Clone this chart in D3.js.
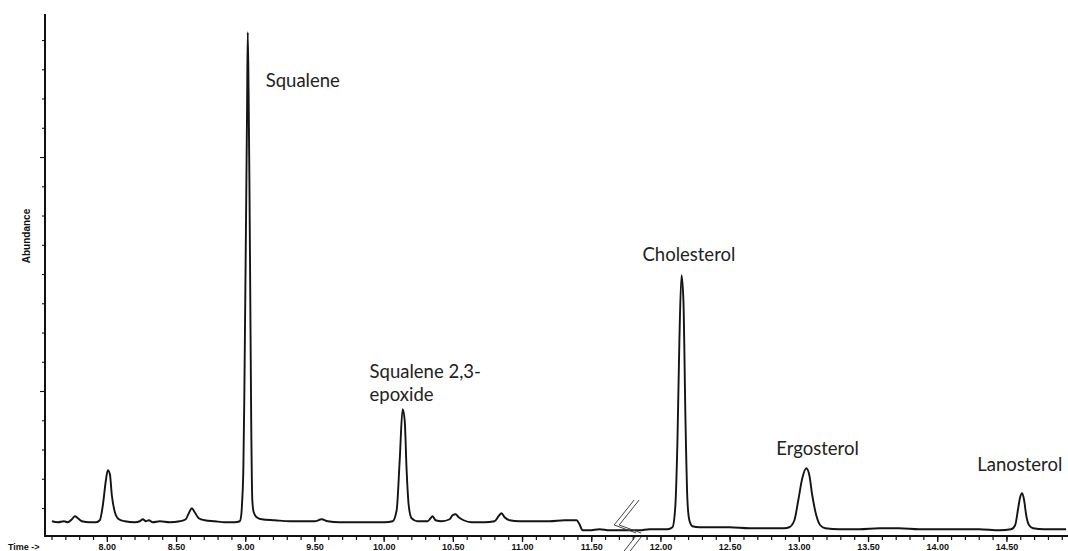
<!DOCTYPE html>
<html>
<head>
<meta charset="utf-8">
<script src="https://cdn.jsdelivr.net/npm/d3@7"></script>
<style>
  html, body { margin: 0; padding: 0; background: #ffffff; }
  svg { display: block; }
</style>
</head>
<body>
<svg id="chart" width="1068" height="551"></svg>
<script>
// ---- data (retention time in minutes, abundance in axis tick units) ----
const retentionTime = [
  7.603, 7.646, 7.690, 7.718, 7.747, 7.769, 7.791, 7.819, 7.877, 7.921,
  7.949, 7.971, 7.993, 8.007, 8.022, 8.036, 8.058, 8.087, 8.130, 8.202,
  8.238, 8.260, 8.282, 8.303, 8.332, 8.383, 8.455, 8.527, 8.570, 8.592,
  8.614, 8.635, 8.664, 8.708, 8.780, 8.852, 8.924, 8.960, 8.971, 8.978,
  8.986, 8.993, 9.000, 9.007, 9.013, 9.018, 9.024, 9.030, 9.036, 9.043,
  9.051, 9.061, 9.083, 9.119, 9.213, 9.321, 9.430, 9.502, 9.552, 9.596,
  9.682, 9.791, 9.899, 10.007, 10.065, 10.094, 10.116, 10.137, 10.152, 10.166,
  10.181, 10.202, 10.245, 10.318, 10.339, 10.354, 10.375, 10.419, 10.477, 10.498,
  10.520, 10.542, 10.578, 10.635, 10.729, 10.801, 10.830, 10.852, 10.874, 10.910,
  10.982, 11.090, 11.199, 11.307, 11.394, 11.415, 11.437, 11.487, 11.560, 11.632,
  11.704, 11.776, 11.848, 11.921, 11.993, 12.051, 12.087, 12.108, 12.123, 12.137,
  12.152, 12.166, 12.181, 12.195, 12.209, 12.231, 12.282, 12.390, 12.498, 12.643,
  12.787, 12.895, 12.931, 12.968, 12.996, 13.025, 13.054, 13.076, 13.097, 13.126,
  13.155, 13.191, 13.292, 13.437, 13.581, 13.726, 13.870, 14.014, 14.159, 14.303,
  14.448, 14.534, 14.563, 14.585, 14.599, 14.614, 14.628, 14.643, 14.664, 14.693,
  14.773, 14.881, 14.931
];
const abundance = [
  0.547, 0.513, 0.547, 0.513, 0.615, 0.718, 0.650, 0.547, 0.513, 0.513,
  0.581, 1.094, 1.949, 2.291, 2.154, 1.436, 0.855, 0.615, 0.547, 0.513,
  0.547, 0.615, 0.547, 0.581, 0.513, 0.547, 0.513, 0.547, 0.615, 0.821,
  0.991, 0.855, 0.650, 0.581, 0.547, 0.513, 0.513, 0.547, 0.752, 1.265,
  2.291, 4.684, 8.103, 11.521, 14.598, 17.265, 15.282, 12.205, 8.444, 4.000,
  1.265, 0.855, 0.684, 0.615, 0.581, 0.547, 0.547, 0.547, 0.615, 0.547,
  0.513, 0.513, 0.513, 0.513, 0.547, 0.923, 2.632, 4.376, 4.000, 2.291,
  1.094, 0.650, 0.547, 0.547, 0.650, 0.718, 0.581, 0.547, 0.615, 0.752,
  0.786, 0.684, 0.581, 0.513, 0.513, 0.547, 0.718, 0.821, 0.684, 0.581,
  0.547, 0.547, 0.547, 0.581, 0.581, 0.444, 0.239, 0.239, 0.274, 0.239,
  0.239, 0.239, 0.239, 0.274, 0.274, 0.274, 0.342, 1.094, 3.316, 6.735,
  8.957, 8.103, 4.000, 1.265, 0.581, 0.376, 0.342, 0.342, 0.342, 0.308,
  0.308, 0.308, 0.342, 0.581, 1.265, 2.017, 2.359, 2.120, 1.436, 0.752,
  0.410, 0.308, 0.274, 0.274, 0.308, 0.308, 0.274, 0.274, 0.274, 0.274,
  0.239, 0.274, 0.410, 0.991, 1.368, 1.504, 1.265, 0.752, 0.410, 0.308,
  0.274, 0.274, 0.274
];
const xTickValues = [8.0, 8.5, 9.0, 9.5, 10.0, 10.5, 11.0, 11.5, 12.0, 12.5, 13.0, 13.5, 14.0, 14.5];
const xTickLabels = ["8.00", "8.50", "9.00", "9.50", "10.00", "10.50", "11.00", "11.50", "12.00", "12.50", "13.00", "13.50", "14.00", "14.50"];
const peakNames = ["Squalene", "Squalene 2,3-|epoxide", "Cholesterol", "Ergosterol", "Lanosterol"];
const peakTimes = [9.018, 10.137, 12.152, 13.054, 14.614];
const peakHeights = [17.265, 4.376, 8.957, 2.359, 1.504];
const breakTime = 11.68;

// ---- layout ----
const W = 1068, H = 551;
const x = d3.scaleLinear().domain([7.553, 14.945]).range([45, 1068]);
const y = d3.scaleLinear().domain([0, 17.89]).range([537.25, 14]);
const axisY = 536;

const svg = d3.select("#chart");

// signal trace
const pts = retentionTime.map((t, i) => [t, abundance[i]]);
svg.append("path")
  .datum(pts)
  .attr("fill", "none")
  .attr("stroke", "#141414")
  .attr("stroke-width", 1.9)
  .attr("stroke-linejoin", "round")
  .attr("d", d3.line().x(d => x(d[0])).y(d => y(d[1])).curve(d3.curveMonotoneX));

// x axis minor ticks
const minorTicks = d3.range(76, 150).map(v => v / 10);
svg.append("g")
  .attr("transform", `translate(0,${axisY})`)
  .call(d3.axisBottom(x).tickValues(minorTicks).tickSize(4).tickFormat(""))
  .call(g => g.select(".domain").remove())
  .call(g => g.selectAll("line").attr("stroke", "#111").attr("stroke-width", 1.2));

// x axis major ticks + labels
const gx = svg.append("g")
  .attr("transform", `translate(0,${axisY})`)
  .call(d3.axisBottom(x).tickValues(xTickValues).tickSize(6)
        .tickFormat((d, i) => xTickLabels[i]));
gx.select(".domain").remove();
gx.selectAll("line").attr("stroke", "#111").attr("stroke-width", 1.3);
gx.selectAll("text")
  .attr("y", 14).attr("dy", 0)
  .attr("font-family", "'Liberation Sans', Arial, sans-serif")
  .attr("font-weight", "bold")
  .attr("font-size", 9)
  .attr("fill", "#111");

// y axis ticks
const gy = svg.append("g")
  .attr("transform", "translate(45,0)")
  .call(d3.axisLeft(y).tickValues(d3.range(1, 18)).tickSize(3).tickFormat(""));
gy.select(".domain").remove();
gy.selectAll(".tick line")
  .attr("stroke", "#111").attr("stroke-width", 1.1)
  .attr("x2", d => (d === 5 || d === 13) ? -5 : -3);

// axis lines
svg.append("line").attr("x1", 45).attr("x2", W).attr("y1", axisY).attr("y2", axisY)
  .attr("stroke", "#111").attr("stroke-width", 2);
svg.append("line").attr("x1", 45).attr("x2", 45).attr("y1", 14).attr("y2", axisY + 1)
  .attr("stroke", "#111").attr("stroke-width", 2);

// axis titles
svg.append("text")
  .attr("x", 8).attr("y", 550)
  .attr("font-family", "'Liberation Sans', Arial, sans-serif")
  .attr("font-weight", "bold").attr("font-size", 9).attr("fill", "#111")
  .text("Time ->");
svg.append("text")
  .attr("transform", "translate(30,236) rotate(-90)")
  .attr("text-anchor", "middle")
  .attr("font-family", "'Liberation Sans', Arial, sans-serif")
  .attr("font-weight", "bold").attr("font-size", 10).attr("fill", "#111")
  .text("Abundance");

// axis break marks
const bx = x(breakTime);
const brk = svg.append("g").attr("fill", "none").attr("stroke", "#444").attr("stroke-width", 1);
[0, 5].forEach(o => {
  brk.append("polyline").attr("points",
    `${bx + 18 + o},${500} ${bx - 2 + o},${525} ${bx + 20 + o},${533}`);
});
brk.append("line").attr("x1", bx + 19).attr("y1", 537).attr("x2", bx + 8).attr("y2", 551);
brk.append("line").attr("x1", bx + 25).attr("y1", 537).attr("x2", bx + 14).attr("y2", 551);

// peak labels
const labelOffsets = [[18, 55], [-33, -31], [-39, -14], [-30, -13], [-45, -22]];
peakNames.forEach((name, i) => {
  const t = svg.append("text")
    .attr("font-family", "Lato, 'Open Sans', sans-serif")
    .attr("font-size", 18.5)
    .attr("fill", "#222");
  name.split("|").forEach((line, j) => {
    t.append("tspan")
      .attr("x", x(peakTimes[i]) + labelOffsets[i][0])
      .attr("y", y(peakHeights[i]) + labelOffsets[i][1] + j * 23)
      .text(line);
  });
});
</script>
</body>
</html>
